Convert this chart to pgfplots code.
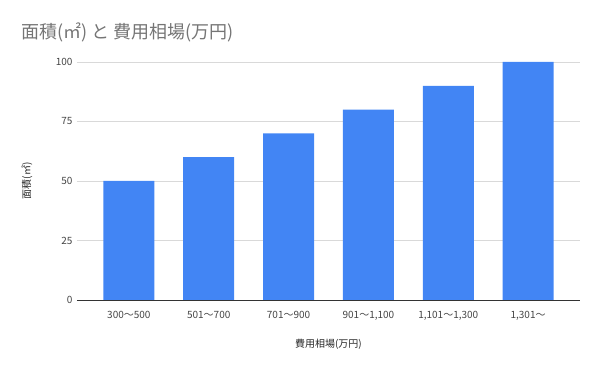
\documentclass[border=0pt]{standalone}
\usepackage{fontspec}
\setmainfont{Noto Sans CJK JP}
\usepackage{pgfplots}
\pgfplotsset{compat=1.18}
\definecolor{barblue}{HTML}{4285F4}
\definecolor{titlegray}{HTML}{757575}
\definecolor{ticktext}{HTML}{444444}
\definecolor{gridgray}{HTML}{D9D9D9}
\begin{document}
\begin{tikzpicture}[x=1pt,y=1pt]
\path[use as bounding box] (0,0) rectangle (600,371);
\node[anchor=west, text=titlegray, font=\fontsize{18}{21}\selectfont] at (18,339) {面積(㎡) と 費用相場(万円)};
\begin{axis}[
  at={(77pt,71pt)}, anchor=south west,
  scale only axis, width=503pt, height=238pt,
  xmin=-0.65, xmax=5.65, ymin=0, ymax=100,
  ybar, bar width=51pt,
  xtick={0,1,2,3,4,5},
  xticklabels={300～500, 501～700, 701～900, {901～1,100}, {1,101～1,300}, {1,301～}},
  ytick={0,25,50,75,100},
  /pgf/number format/assume math mode=true,
  tick label style={font=\fontsize{10}{12}\selectfont, text=ticktext},
  xtick style={draw=none}, ytick style={draw=none},
  ymajorgrids, grid style={gridgray, line width=0.8pt},
  axis x line*=bottom, axis y line*=left,
  y axis line style={draw=none},
  x axis line style={draw=black!80, line width=0.8pt, -},
  xticklabel style={yshift=-3pt},
  yticklabel style={xshift=-1pt},
  xlabel={費用相場(万円)}, ylabel={面積(㎡)},
  label style={font=\fontsize{10}{12}\selectfont, text=black!85},
  xlabel style={at={(axis description cs:0.5,0)}, anchor=center, yshift=-44pt},
  ylabel style={at={(axis description cs:-0.0994,0.5)}, anchor=center, rotate=0},
  clip=false,
]
\addplot[fill=barblue, draw=none] coordinates {(0,50) (1,60) (2,70) (3,80) (4,90) (5,100)};
\end{axis}
\end{tikzpicture}
\end{document}
